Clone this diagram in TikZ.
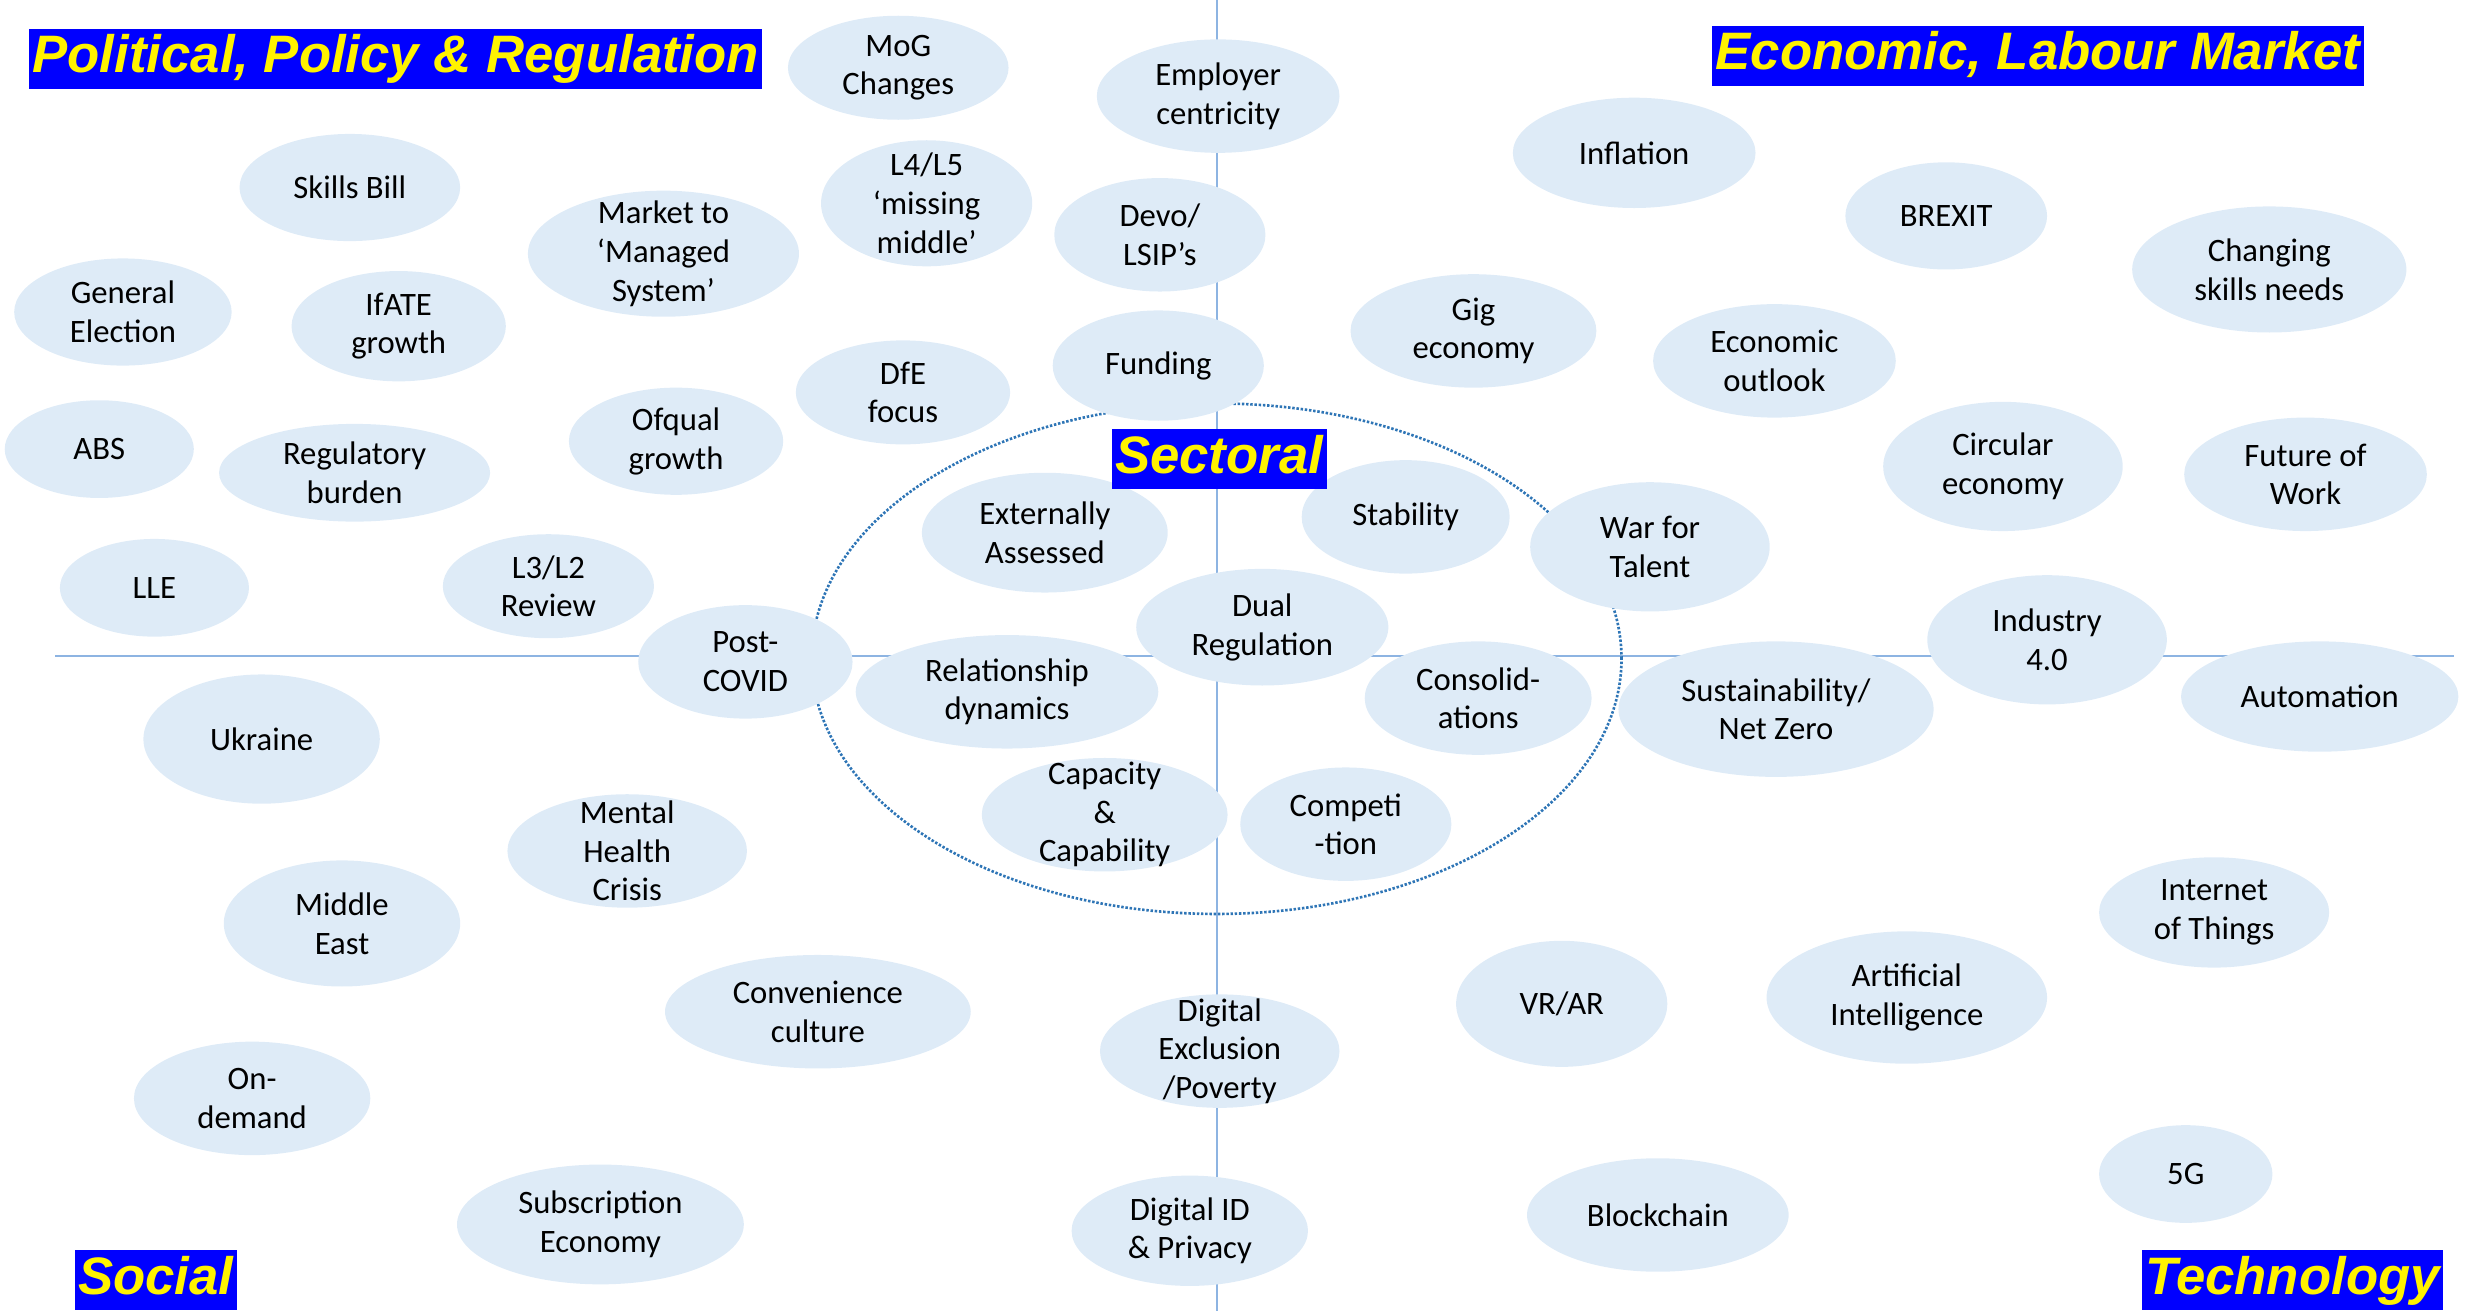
\documentclass[tikz,border=0pt]{standalone}
\usepackage{fontspec}
\setmainfont{Carlito}
\newfontfamily\headfont{Liberation Sans}
\usetikzlibrary{shapes}
\definecolor{bubble}{HTML}{DEEBF7}
\definecolor{axisblue}{HTML}{8DB4E2}
\definecolor{ringblue}{HTML}{2E75B6}

\begin{document}
\begin{tikzpicture}[x=0.01576cm, y=-0.01576cm,
    main/.style 2 args = {ellipse, fill=bubble, inner sep=-14pt, align=center,
        font=\fontsize{9.3}{11}\selectfont,
        minimum width=#1*0.01576cm, minimum height=#2*0.01576cm},
    head/.style = {anchor=north west, fill=blue, text=yellow, inner xsep=1pt, inner ysep=1pt,
        text height=11.5pt, text depth=3.5pt,
        font=\headfont\bfseries\itshape\fontsize{15}{15}\selectfont}]
    \useasboundingbox (0,0) rectangle (1568,832);

    % axes and sector ring
    \draw [axisblue, line width=0.6pt] (772,0) -- (772,832);
    \draw [axisblue, line width=0.6pt] (35,416) -- (1557,416);
    \draw [ringblue, line width=0.75pt, dash pattern=on 0.7pt off 0.5pt]
        (772,418) ellipse [x radius=4.05cm, y radius=2.553cm];

    % political, policy & regulation
    \node[main={140}{66}] at (570, 43) (mog) {MoG\\Changes};
    \node[main={154}{72}] at (773, 61) (employer) {Employer\\centricity};
    \node[main={140}{68}] at (222, 119) (skills) {Skills Bill};
    \node[main={134}{80}] at (588, 129) (missing) {L4/L5\\‘missing\\middle’};
    \node[main={172}{80}] at (421, 161) (market) {Market to\\‘Managed\\System’};
    \node[main={134}{72}] at (736, 149) (devo) {Devo/\\LSIP’s};
    \node[main={138}{68}] at (78, 198) (election) {General\\Election};
    \node[main={136}{70}] at (253, 207) (ifate) {IfATE\\growth};
    \node[main={136}{66}] at (573, 249) (dfe) {DfE\\focus};
    \node[main={134}{70}] at (735, 232) (funding) {Funding};
    \node[main={120}{62}] at (63, 285) (abs) {ABS};
    \node[main={172}{62}] at (225, 300) (burden) {Regulatory\\burden};
    \node[main={136}{68}] at (429, 280) (ofqual) {Ofqual\\growth};
    \node[main={120}{62}] at (98, 373) (lle) {LLE};
    \node[main={134}{66}] at (348, 372) (review) {L3/L2\\Review};
    \node[main={136}{72}] at (473, 420) (covid) {Post-\\COVID};

    % economic, labour market
    \node[main={154}{70}] at (1037, 97) (inflation) {Inflation};
    \node[main={128}{68}] at (1235, 137) (brexit) {BREXIT};
    \node[main={174}{80}] at (1440, 171) (changing) {Changing\\skills needs};
    \node[main={156}{72}] at (935, 210) (gig) {Gig\\economy};
    \node[main={154}{72}] at (1126, 229) (outlook) {Economic\\outlook};
    \node[main={152}{82}] at (1271, 296) (circular) {Circular\\economy};
    \node[main={154}{72}] at (1463, 301) (future) {Future of\\Work};
    \node[main={152}{82}] at (1047, 347) (war) {War for\\Talent};
    \node[main={152}{82}] at (1299, 406) (industry) {Industry\\4.0};
    \node[main={176}{70}] at (1472, 442) (automation) {Automation};
    \node[main={200}{86}] at (1127, 450) (netzero) {Sustainability/\\Net Zero};

    % sectoral
    \node[main={156}{76}] at (663, 338) (external) {Externally\\Assessed};
    \node[main={132}{72}] at (892, 328) (stability) {Stability};
    \node[main={160}{74}] at (801, 398) (dual) {Dual\\Regulation};
    \node[main={192}{72}] at (639, 439) (relation) {Relationship\\dynamics};
    \node[main={144}{72}] at (938, 443) (consol) {Consolid-\\ations};
    \node[main={156}{72}] at (701, 517) (capacity) {Capacity\\\&\\Capability};
    \node[main={134}{72}] at (854, 523) (competition) {Competi\\-tion};

    % social
    \node[main={150}{82}] at (166, 469) (ukraine) {Ukraine};
    \node[main={152}{72}] at (398, 540) (mental) {Mental\\Health\\Crisis};
    \node[main={150}{80}] at (217, 586) (mideast) {Middle\\East};
    \node[main={194}{72}] at (519, 642) (convenience) {Convenience\\culture};
    \node[main={150}{72}] at (160, 697) (ondemand) {On-\\demand};
    \node[main={182}{76}] at (381, 777) (subscription) {Subscription\\Economy};

    % technology
    \node[main={152}{72}] at (774, 667) (exclusion) {Digital\\Exclusion\\/Poverty};
    \node[main={134}{80}] at (991, 637) (vrar) {VR/AR};
    \node[main={178}{84}] at (1210, 633) (ai) {Artificial\\Intelligence};
    \node[main={146}{70}] at (1405, 579) (iot) {Internet\\of Things};
    \node[main={150}{70}] at (755, 781) (digid) {Digital ID\\\& Privacy};
    \node[main={166}{72}] at (1052, 771) (blockchain) {Blockchain};
    \node[main={110}{62}] at (1387, 745) (fiveg) {5G};

    % headings
    \node[head] at (18, 18) (political) {Political, Policy \& Regulation};
    \node[head] at (1086, 16) (economic) {Economic, Labour Market};
    \node[head] at (705, 272) (sectoral) {Sectoral};
    \node[head] at (47, 793) (social) {Social};
    \node[head] at (1359, 793) (technology) {Technology};
\end{tikzpicture}
\end{document}
